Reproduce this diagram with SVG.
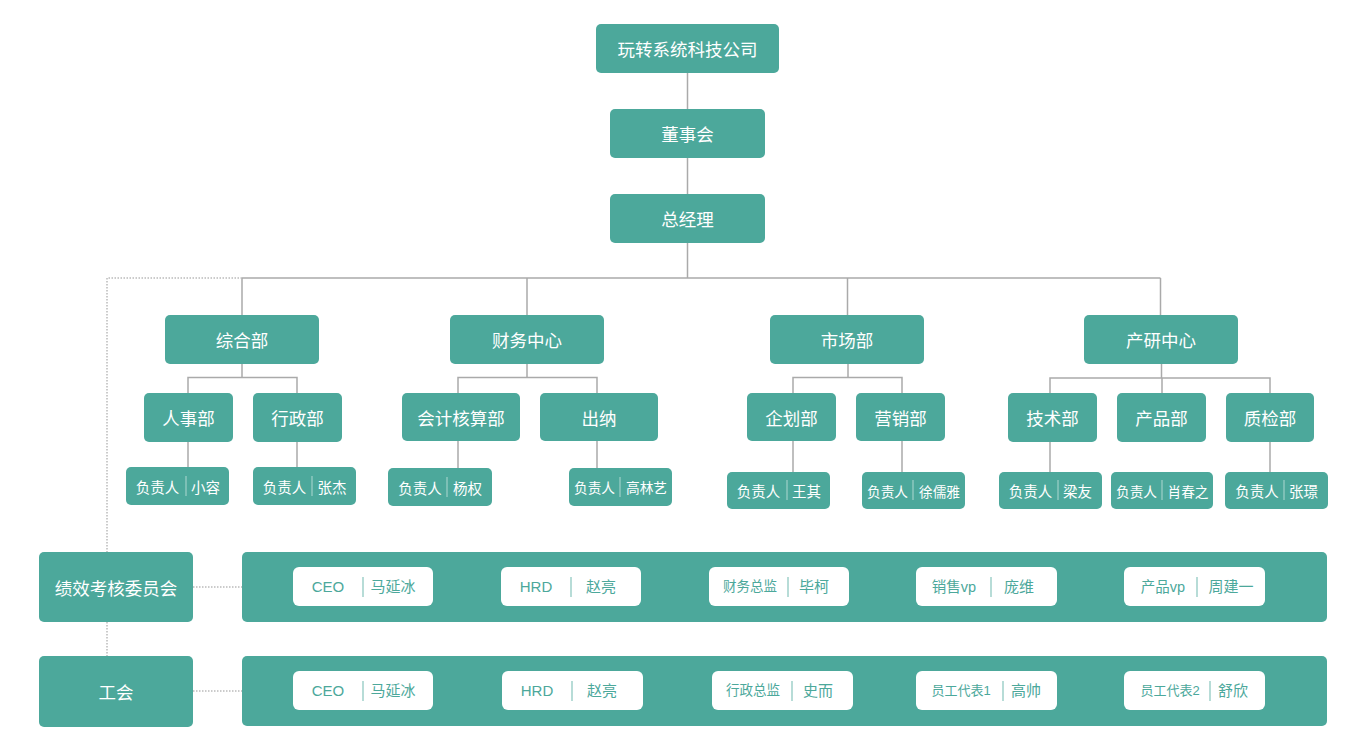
<svg xmlns="http://www.w3.org/2000/svg" width="1368" height="750" viewBox="0 0 1368 750">
<style>
.n{fill:#4ca89b}
.w{fill:#fff}
.t{fill:#fff;font-family:"Noto Sans CJK SC","Noto Sans",sans-serif;font-size:17.5px;text-anchor:middle;dominant-baseline:central}
.lt{fill:#fff;font-family:"Noto Sans CJK SC","Noto Sans",sans-serif;font-size:14.5px;text-anchor:middle;dominant-baseline:central}
.pt{fill:#4ca89b;font-family:"Liberation Sans","Noto Sans CJK SC",sans-serif;font-size:15px;text-anchor:middle;dominant-baseline:central}
.ld{stroke:#fff;stroke-opacity:0.55;stroke-width:1}
.pd{stroke:#4ca89b;stroke-opacity:0.8;stroke-width:1}
.c{fill:none;stroke:#aaaaaa;stroke-width:1.5}
.d{fill:none;stroke:#bbbbbb;stroke-width:1.5;stroke-dasharray:1.5 1.5}
</style>
<g id="connectors">
<path class="c" d="M687.5 73V109M687.5 158V194M687.5 243V278M242 278H1160.5M242 278V315M527 278V315M847.5 278V315M1160.5 278V315"/>
<path class="c" d="M242 364V377.5M188 393V377.5H297V393M188 442V467M297 442V467"/>
<path class="c" d="M527 364V377.5M458 393V377.5H597V393M458 441V468M597 441V468"/>
<path class="c" d="M848 364V377.5M793 393V377.5H902V393M793 441V472M902 441V472"/>
<path class="c" d="M1161.5 364V378M1050 393V378H1270V393M1162 378V393M1050 442V472M1270 442V472"/>
<path class="d" d="M242 278H107V552M107 622V656M193 587H242M193 691H242"/>
</g>
<g id="company"><rect class="n" x="596" y="24" width="183" height="49" rx="5"/><text class="t" x="687.5" y="48.5">玩转系统科技公司</text></g>
<g id="board"><rect class="n" x="610" y="109" width="155" height="49" rx="5"/><text class="t" x="687.5" y="133.5">董事会</text></g>
<g id="gm"><rect class="n" x="610" y="194" width="155" height="49" rx="5"/><text class="t" x="687.5" y="218.5">总经理</text></g>

<g id="zonghe"><rect class="n" x="165" y="315" width="154" height="49" rx="5"/><text class="t" x="242" y="339.5">综合部</text></g>
<g id="caiwu"><rect class="n" x="450" y="315" width="154" height="49" rx="5"/><text class="t" x="527" y="339.5">财务中心</text></g>
<g id="shichang"><rect class="n" x="770" y="315" width="154" height="49" rx="5"/><text class="t" x="847" y="339.5">市场部</text></g>
<g id="chanyan"><rect class="n" x="1084" y="315" width="154" height="49" rx="5"/><text class="t" x="1161" y="339.5">产研中心</text></g>

<g id="renshi"><rect class="n" x="144" y="393" width="89" height="49" rx="5"/><text class="t" x="188.5" y="417.5">人事部</text></g>
<g id="xingzheng"><rect class="n" x="253" y="393" width="89" height="49" rx="5"/><text class="t" x="297.5" y="417.5">行政部</text></g>
<g id="kuaiji"><rect class="n" x="402" y="393" width="118" height="48" rx="5"/><text class="t" x="461" y="417">会计核算部</text></g>
<g id="chuna"><rect class="n" x="540" y="393" width="118" height="48" rx="5"/><text class="t" x="599" y="417">出纳</text></g>
<g id="qihua"><rect class="n" x="747" y="393" width="89" height="48" rx="5"/><text class="t" x="791.5" y="417">企划部</text></g>
<g id="yingxiao"><rect class="n" x="856" y="393" width="89" height="48" rx="5"/><text class="t" x="900.5" y="417">营销部</text></g>
<g id="jishu"><rect class="n" x="1008" y="393" width="89" height="49" rx="5"/><text class="t" x="1052.5" y="417.5">技术部</text></g>
<g id="chanpin"><rect class="n" x="1117" y="393" width="89" height="49" rx="5"/><text class="t" x="1161.5" y="417.5">产品部</text></g>
<g id="zhijian"><rect class="n" x="1226" y="393" width="88" height="49" rx="5"/><text class="t" x="1270" y="417.5">质检部</text></g>

<g id="leaf-xiaorong"><rect class="n" x="126" y="467" width="103" height="38" rx="5"/><text class="lt" x="157.5" y="486">负责人</text><line class="ld" x1="186" y1="476" x2="186" y2="496"/><text class="lt" x="205.5" y="486">小容</text></g>
<g id="leaf-zhangjie"><rect class="n" x="253" y="467" width="103" height="38" rx="5"/><text class="lt" x="284.5" y="486">负责人</text><line class="ld" x1="312" y1="476" x2="312" y2="496"/><text class="lt" x="332" y="486">张杰</text></g>
<g id="leaf-yangquan"><rect class="n" x="388" y="468" width="104" height="38" rx="5"/><text class="lt" x="420" y="487">负责人</text><line class="ld" x1="447" y1="477" x2="447" y2="497"/><text class="lt" x="467.5" y="487">杨权</text></g>
<g id="leaf-gaolinyi"><rect class="n" x="569" y="468" width="103" height="38" rx="5"/><text class="lt" x="594.5" y="487" style="font-size:13.7px">负责人</text><line class="ld" x1="620" y1="477" x2="620" y2="497"/><text class="lt" x="646.5" y="487" style="font-size:13.7px">高林艺</text></g>
<g id="leaf-wangqi"><rect class="n" x="727" y="472" width="103" height="37" rx="5"/><text class="lt" x="758.5" y="490.5">负责人</text><line class="ld" x1="787" y1="480" x2="787" y2="500"/><text class="lt" x="806.5" y="490.5">王其</text></g>
<g id="leaf-xuruya"><rect class="n" x="862" y="472" width="103" height="37" rx="5"/><text class="lt" x="887.5" y="490.5" style="font-size:13.7px">负责人</text><line class="ld" x1="913" y1="480" x2="913" y2="500"/><text class="lt" x="939.5" y="490.5" style="font-size:13.7px">徐儒雅</text></g>
<g id="leaf-liangyou"><rect class="n" x="999" y="472" width="103" height="37" rx="5"/><text class="lt" x="1030.5" y="490.5">负责人</text><line class="ld" x1="1058" y1="480" x2="1058" y2="500"/><text class="lt" x="1077.5" y="490.5">梁友</text></g>
<g id="leaf-xiaochunzhi"><rect class="n" x="1111" y="472" width="102" height="37" rx="5"/><text class="lt" x="1136.5" y="490.5" style="font-size:13.7px">负责人</text><line class="ld" x1="1162" y1="480" x2="1162" y2="500"/><text class="lt" x="1188" y="490.5" style="font-size:13.7px">肖春之</text></g>
<g id="leaf-zhangjing"><rect class="n" x="1225" y="472" width="103" height="37" rx="5"/><text class="lt" x="1257" y="490.5">负责人</text><line class="ld" x1="1284" y1="480" x2="1284" y2="500"/><text class="lt" x="1303.5" y="490.5">张璟</text></g>

<g id="jixiao"><rect class="n" x="39" y="552" width="154" height="70" rx="5"/><text class="t" x="116" y="587">绩效考核委员会</text></g>
<g id="gonghui"><rect class="n" x="39" y="656" width="154" height="71" rx="5"/><text class="t" x="116" y="691.5">工会</text></g>

<g id="jixiao-members">
<rect class="n" x="242" y="552" width="1085" height="70" rx="5"/>
<rect class="w" x="293" y="567" width="140" height="39" rx="6"/><text class="pt" x="328" y="586.5">CEO</text><line class="pd" x1="363" y1="577" x2="363" y2="597"/><text class="pt" x="393" y="586.5">马延冰</text>
<rect class="w" x="501" y="567" width="140" height="39" rx="6"/><text class="pt" x="536" y="586.5">HRD</text><line class="pd" x1="571" y1="577" x2="571" y2="597"/><text class="pt" x="601" y="586.5">赵亮</text>
<rect class="w" x="709" y="567" width="140" height="39" rx="6"/><text class="pt" x="750" y="586.5" style="font-size:13.5px">财务总监</text><line class="pd" x1="788" y1="577" x2="788" y2="597"/><text class="pt" x="814" y="586.5">毕柯</text>
<rect class="w" x="916" y="567" width="141" height="39" rx="6"/><text class="pt" x="954" y="586.5" style="font-size:14.5px">销售vp</text><line class="pd" x1="991" y1="577" x2="991" y2="597"/><text class="pt" x="1019" y="586.5">庞维</text>
<rect class="w" x="1124" y="567" width="141" height="39" rx="6"/><text class="pt" x="1163" y="586.5" style="font-size:14.5px">产品vp</text><line class="pd" x1="1197" y1="577" x2="1197" y2="597"/><text class="pt" x="1231" y="586.5">周建一</text>
</g>
<g id="gonghui-members">
<rect class="n" x="242" y="656" width="1085" height="70" rx="5"/>
<rect class="w" x="293" y="671" width="140" height="39" rx="6"/><text class="pt" x="328" y="690.5">CEO</text><line class="pd" x1="363" y1="681" x2="363" y2="701"/><text class="pt" x="393" y="690.5">马延冰</text>
<rect class="w" x="502" y="671" width="141" height="39" rx="6"/><text class="pt" x="537" y="690.5">HRD</text><line class="pd" x1="572" y1="681" x2="572" y2="701"/><text class="pt" x="602" y="690.5">赵亮</text>
<rect class="w" x="712" y="671" width="141" height="39" rx="6"/><text class="pt" x="753" y="690.5" style="font-size:13.5px">行政总监</text><line class="pd" x1="792" y1="681" x2="792" y2="701"/><text class="pt" x="818" y="690.5">史而</text>
<rect class="w" x="916" y="671" width="141" height="39" rx="6"/><text class="pt" x="961" y="690.5" style="font-size:13px">员工代表1</text><line class="pd" x1="1003" y1="681" x2="1003" y2="701"/><text class="pt" x="1026" y="690.5">高帅</text>
<rect class="w" x="1124" y="671" width="141" height="39" rx="6"/><text class="pt" x="1170" y="690.5" style="font-size:13px">员工代表2</text><line class="pd" x1="1210" y1="681" x2="1210" y2="701"/><text class="pt" x="1233" y="690.5">舒欣</text>
</g>
</svg>
